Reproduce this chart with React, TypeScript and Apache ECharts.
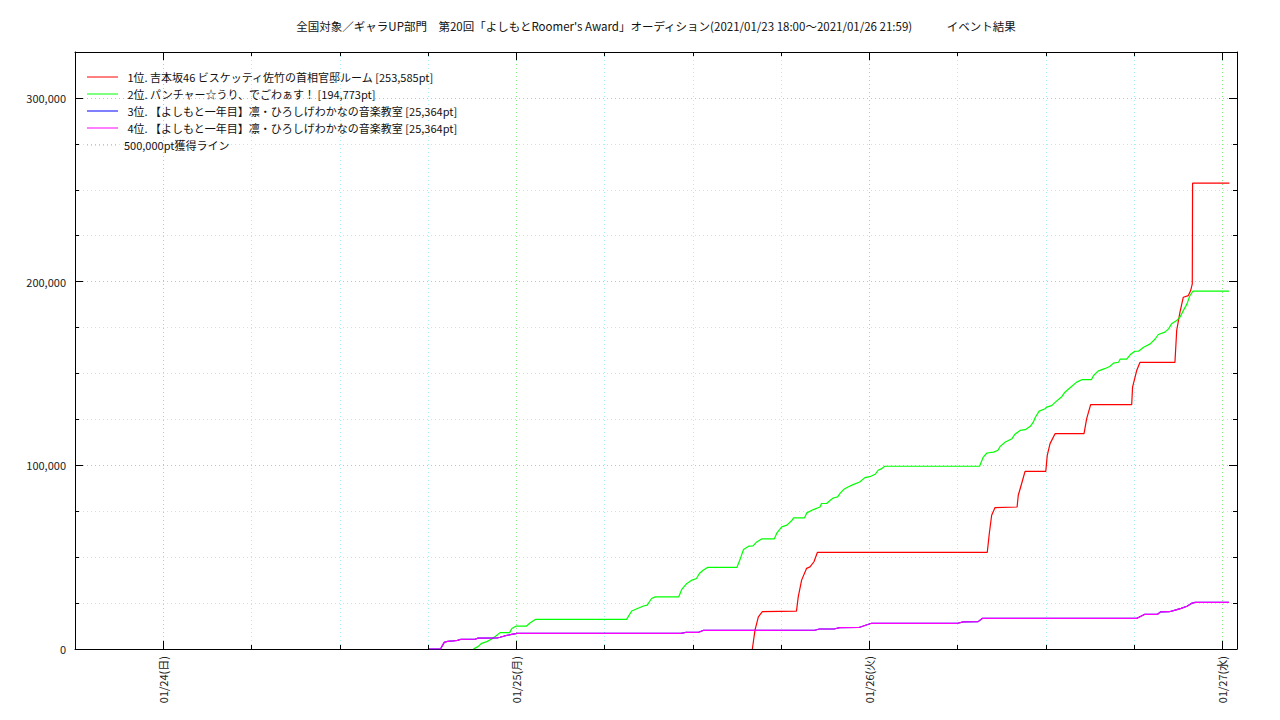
import React, { useEffect, useRef } from "react";
import * as echarts from "echarts";

// x = hours since 2021/01/23 18:00
const X_MIN = 0;
const X_MAX = 79;
const X_STEP = 6;
const Y_MIN = 0;
const Y_MAX = 325000;
const Y_STEP = 25000;

const dayTickHours = [6, 30, 54, 78];
const dayLabels = ["01/24(日)", "01/25(月)", "01/26(火)", "01/27(水)"];
const yMajorTicks = [0, 100000, 200000, 300000];

const titleText =
  "全国対象／ギャラUP部門　第20回「よしもとRoomer's Award」オーディション(2021/01/23 18:00～2021/01/26 21:59)　　　イベント結果";

const legendNames = [
  " 1位. 吉本坂46 ビスケッティ佐竹の首相官邸ルーム [253,585pt]",
  " 2位. パンチャー☆うり、でごわぁす！ [194,773pt]",
  " 3位. 【よしもと一年目】凛・ひろしげわかなの音楽教室 [25,364pt]",
  " 4位. 【よしもと一年目】凛・ひろしげわかなの音楽教室 [25,364pt]",
  "500,000pt獲得ライン",
];
const seriesColors = ["#ff0000", "#00ff00", "#0000ff", "#ff00ff", "#ff0000"];

const rank1: [number, number][] = [
  [46.05, 0], [46.23, 10300], [46.46, 17500], [46.73, 20300], [49.05, 20600],
  [49.17, 28400], [49.4, 37500], [49.74, 43900], [49.97, 44700], [50.24, 47500],
  [50.47, 52550], [62.02, 52550], [62.16, 62900], [62.32, 72800], [62.55, 77000],
  [64.05, 77300], [64.13, 83700], [64.36, 90100], [64.59, 96700], [66.0, 96700],
  [66.1, 105400], [66.29, 111800], [66.63, 117200], [68.6, 117200], [68.78, 125400],
  [69.05, 133000], [71.84, 133000], [71.9, 142600], [72.18, 151600], [72.4, 156000],
  [74.78, 156000], [74.9, 173400], [75.12, 183300], [75.35, 191500], [75.69, 192400],
  [75.85, 195100], [75.96, 198800], [75.98, 253585], [78.48, 253585],
];

const rank2: [number, number][] = [
  [27.08, 0], [27.4, 1300], [27.65, 3100], [28.0, 4000], [28.3, 5300], [28.55, 6700],
  [28.9, 8900], [29.55, 8900], [29.7, 11200], [30.0, 12500], [30.7, 12500], [30.95, 14300],
  [31.3, 16100], [37.5, 16100], [37.85, 20700], [38.2, 21900], [38.65, 23400], [38.9, 23900],
  [39.2, 27500], [39.45, 28400], [41.05, 28400], [41.25, 32400], [41.6, 35700], [41.95, 37500],
  [42.25, 38400], [42.45, 41100], [42.7, 42900], [43.0, 44400], [45.0, 44400], [45.2, 48400],
  [45.45, 54200], [45.8, 56000], [46.1, 56100], [46.35, 58300], [46.7, 60000], [47.55, 60000],
  [47.7, 62900], [48.05, 66500], [48.4, 67400], [48.75, 70100], [48.85, 71400], [49.6, 71400],
  [49.75, 74100], [50.2, 75900], [50.65, 77300], [50.75, 79200], [51.1, 79200], [51.35, 81000],
  [51.55, 82200], [51.85, 82800], [52.0, 84600], [52.25, 86800], [52.55, 88200], [52.9, 89500],
  [53.35, 90900], [53.7, 93300], [54.1, 94000], [54.4, 95100], [54.6, 97300], [54.85, 98200],
  [55.05, 99500], [61.5, 99500], [61.75, 104500], [62.0, 106700], [62.45, 107200],
  [62.75, 108200], [62.9, 110300], [63.25, 112700], [63.7, 114500], [63.9, 116900],
  [64.25, 119000], [64.6, 119400], [64.95, 121200], [65.15, 123500], [65.3, 126300],
  [65.55, 129500], [65.95, 130800], [66.05, 131700], [66.4, 132500], [66.65, 134400],
  [67.1, 137500], [67.3, 139800], [67.65, 142200], [68.1, 145300], [68.45, 146600],
  [69.1, 146600], [69.25, 148900], [69.55, 151300], [70.0, 152600], [70.35, 153800],
  [70.6, 155600], [70.95, 156100], [71.05, 157800], [71.5, 157800], [71.75, 160300],
  [72.05, 162100], [72.3, 162100], [72.65, 164300], [73.1, 166100], [73.45, 168900],
  [73.65, 171200], [74.1, 172500], [74.35, 174300], [74.55, 177000], [74.9, 178800],
  [75.15, 181000], [75.35, 184200], [75.6, 187900], [75.8, 192400], [76.0, 194773],
  [78.45, 194773],
];

const rank3: [number, number][] = [
  [24.07, 0], [24.85, 0], [25.1, 3600], [25.35, 4200], [25.7, 4400], [26.0, 4700],
  [26.2, 5200], [27.2, 5300], [27.4, 5900], [28.7, 6000], [28.9, 6400], [29.2, 7100],
  [29.6, 7800], [30.05, 8500], [41.2, 8500], [41.5, 9000], [42.4, 9100], [42.7, 10100],
  [50.3, 10200], [50.6, 10900], [51.6, 10900], [52.0, 11600], [53.3, 11700], [53.6, 12500],
  [54.15, 14000], [60.0, 14000], [60.4, 14800], [61.4, 14900], [61.7, 16700], [72.2, 16700],
  [72.7, 18800], [73.6, 18900], [73.8, 20200], [74.4, 20300], [74.8, 21200], [75.2, 22100],
  [75.6, 23300], [75.9, 24800], [76.15, 25364], [78.45, 25364],
];

const rank4: [number, number][] = [
  [24.07, 0], [24.85, 0], [25.1, 3600], [25.35, 4200], [25.7, 4400], [26.0, 4700],
  [26.2, 5200], [27.2, 5300], [27.4, 5900], [28.7, 6000], [28.9, 6400], [29.2, 7100],
  [29.6, 7800], [30.05, 8500], [41.2, 8500], [41.5, 9000], [42.4, 9100], [42.7, 10100],
  [50.3, 10200], [50.6, 10900], [51.6, 10900], [52.0, 11600], [53.3, 11700], [53.6, 12500],
  [54.15, 14000], [60.0, 14000], [60.4, 14800], [61.4, 14900], [61.7, 16700], [72.2, 16700],
  [72.7, 18800], [73.6, 18900], [73.8, 20200], [74.4, 20300], [74.8, 21200], [75.2, 22100],
  [75.6, 23300], [75.9, 24800], [76.15, 25364], [78.45, 25364],
];

const targetLine: [number, number][] = [
  [0, 500000], [79, 500000],
];

const FONT = "'Noto Sans CJK JP', 'Noto Sans', sans-serif";
const GRID_MINOR = "#a8f2f2";
const GRID_MAJOR = "#86ea86";

function makeXAxis(pos: "top" | "bottom", kind: "main" | "minor" | "major") {
  const base: any = {
    type: "value",
    min: X_MIN,
    max: X_MAX,
    interval: X_STEP,
    position: pos,
    axisLine: { show: kind !== "major", onZero: false, lineStyle: { color: "#000", width: 1 } },
    axisTick: {
      show: true,
      inside: true,
      length: kind === "major" ? 8 : 4,
      lineStyle: { color: "#000", width: 1 },
    },
    axisLabel: { show: false },
    splitLine: { show: false },
  };
  if (kind === "major") base.axisTick.customValues = dayTickHours;
  if (kind === "main") {
    base.axisLabel = {
      show: true,
      rotate: 90,
      margin: 7,
      fontSize: 11,
      fontFamily: FONT,
      color: "#222",
      formatter: (v: number) => {
        const i = dayTickHours.indexOf(v);
        return i >= 0 ? dayLabels[i] : "";
      },
    };
    base.splitLine = {
      show: true,
      lineStyle: { type: [1, 3], color: [GRID_MINOR, GRID_MAJOR, GRID_MINOR, GRID_MINOR], width: 1 },
    };
  }
  return base;
}

function makeYAxis(pos: "left" | "right", kind: "main" | "minor" | "major") {
  const base: any = {
    type: "value",
    min: Y_MIN,
    max: Y_MAX,
    interval: Y_STEP,
    position: pos,
    axisLine: { show: kind !== "major", onZero: false, lineStyle: { color: "#000", width: 1 } },
    axisTick: {
      show: true,
      inside: true,
      length: kind === "major" ? 8 : 4,
      lineStyle: { color: "#000", width: 1 },
    },
    axisLabel: { show: false },
    splitLine: { show: false },
  };
  if (kind === "major") base.axisTick.customValues = yMajorTicks;
  if (kind === "main") {
    base.axisLabel = {
      show: true,
      margin: 9,
      fontSize: 11,
      fontFamily: FONT,
      color: "#222",
      formatter: (v: number) => (yMajorTicks.indexOf(v) >= 0 ? v.toLocaleString("en-US") : ""),
    };
    base.splitLine = {
      show: true,
      lineStyle: { type: [1, 3], color: [GRID_MAJOR, GRID_MINOR, GRID_MINOR, GRID_MINOR], width: 1 },
    };
  }
  return base;
}

export default function App() {
  const ref = useRef<HTMLDivElement>(null);

  useEffect(() => {
    if (!ref.current) return;
    const chart = echarts.init(ref.current, null, { renderer: "svg" });

    const seriesData = [rank1, rank2, rank3, rank4, targetLine];
    const series = seriesData.map((d, i) => ({
      type: "line",
      name: "s" + i,
      data: d,
      xAxisIndex: 0,
      yAxisIndex: 0,
      showSymbol: false,
      symbol: "none",
      clip: true,
      lineStyle: {
        color: seriesColors[i],
        width: i === 4 ? 1 : 1.2,
        type: i === 4 ? [1, 3] : "solid",
      },
      z: 3 + i,
    }));

    const legendGraphics: any[] = [];
    legendNames.forEach((name, i) => {
      const y = 77 + i * 17;
      legendGraphics.push({
        type: "line",
        shape: { x1: 87, y1: y, x2: 118, y2: y },
        style: {
          stroke: i === 4 ? "#ff9090" : seriesColors[i],
          lineWidth: 1,
          lineDash: i === 4 ? [1, 3] : null,
        },
        z: 100,
      });
      legendGraphics.push({
        type: "text",
        x: i === 4 ? 124 : 125,
        y: y,
        style: {
          text: name,
          fontSize: 11,
          fontFamily: FONT,
          fill: "#111",
          textVerticalAlign: "middle",
          textAlign: "left",
        },
        z: 100,
      });
    });

    chart.setOption({
      animation: false,
      backgroundColor: "#ffffff",
      grid: { left: 75, right: 43, top: 52, bottom: 71, containLabel: false },
      xAxis: [
        makeXAxis("bottom", "main"),
        makeXAxis("top", "minor"),
        makeXAxis("bottom", "major"),
        makeXAxis("top", "major"),
      ],
      yAxis: [
        makeYAxis("left", "main"),
        makeYAxis("right", "minor"),
        makeYAxis("left", "major"),
        makeYAxis("right", "major"),
      ],
      series,
      graphic: [
        {
          type: "text",
          x: 656,
          y: 26,
          style: {
            text: titleText,
            fontSize: 11.5,
            fontFamily: FONT,
            fill: "#111",
            textAlign: "center",
            textVerticalAlign: "middle",
          },
        },
        ...legendGraphics,
      ],
    });

    return () => chart.dispose();
  }, []);

  return (
    <div
      ref={ref}
      style={{ position: "fixed", left: 0, top: 0, width: 1280, height: 720, background: "#fff" }}
    />
  );
}
